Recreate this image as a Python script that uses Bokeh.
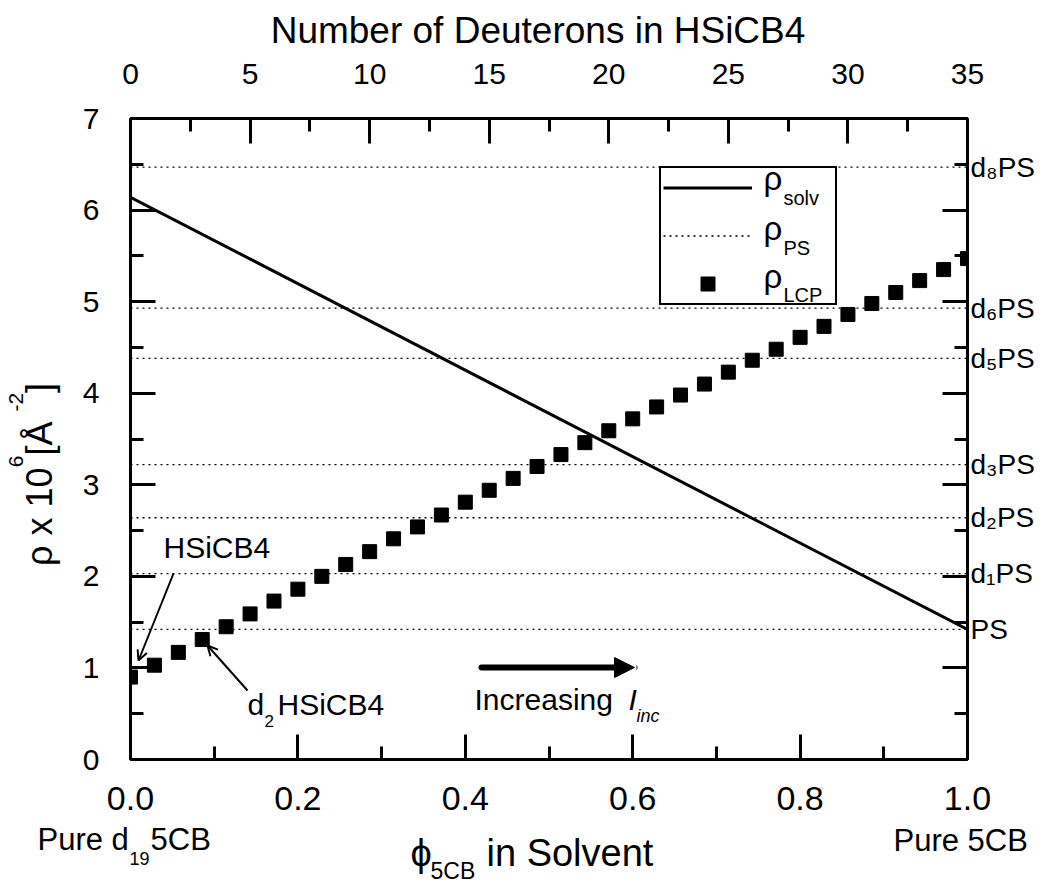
import math
from bokeh.plotting import figure
from bokeh.layouts import column, row
from bokeh.models import (Range1d, LinearAxis, SingleIntervalTicker, FixedTicker,
                          PrintfTickFormatter, CustomJSTickFormatter, Label, Arrow,
                          NormalHead, OpenHead, Legend, LegendItem)
from bokeh.embed import file_html
from bokeh.resources import INLINE

# ---------------- data ----------------
deuterons = [0, 1, 2, 3, 4, 5, 6, 7, 8, 9, 10, 11, 12, 13, 14, 15, 16, 17,
             18, 19, 20, 21, 22, 23, 24, 25, 26, 27, 28, 29, 30, 31, 32, 33, 34, 35]
rho_lcp = [0.90, 1.03, 1.17, 1.31, 1.45, 1.59, 1.73, 1.86, 2.00, 2.13, 2.27, 2.41,
           2.54, 2.67, 2.81, 2.94, 3.07, 3.20, 3.33, 3.46, 3.59, 3.72, 3.85, 3.98,
           4.10, 4.23, 4.36, 4.48, 4.61, 4.73, 4.86, 4.98, 5.10, 5.23, 5.35, 5.47]
phi_solv = [0.0, 1.0]
rho_solv = [6.14, 1.42]
ps_sub = ["", "1", "2", "3", "5", "6", "8"]
rho_ps = [1.42, 2.03, 2.64, 3.22, 4.38, 4.93, 6.47]

SUBS = {"1": "\u2081", "2": "\u2082", "3": "\u2083", "5": "\u2085", "6": "\u2086", "8": "\u2088"}
ps_labels = [("d" + SUBS[s] + "PS") if s else "PS" for s in ps_sub]

FONT = "Liberation Sans"
K = 0.36   # empirical shift of Label text below its anchor, in em

# ---------------- page geometry (px) ----------------
PAGE_W, PAGE_H = 1042, 885
MID_TOP, MID_BOT = 51, 822
TOP_H = MID_TOP
L_W = 66
FL, FT, FW, FH = 130, 118, 837, 641
BOT_H = PAGE_H - MID_BOT


def text_fig(w, h):
    f = figure(width=w, height=h, x_range=Range1d(0, w), y_range=Range1d(h, 0),
               output_backend="svg", toolbar_location=None, title=None,
               x_axis_location=None, y_axis_location=None, min_border=0,
               frame_align=False)
    f.xgrid.visible = False
    f.ygrid.visible = False
    f.outline_line_color = None
    f.background_fill_color = "white"
    f.border_fill_color = "white"
    return f


def put(f, ox, oy, text, px, py, size, align="left", italic=False, rotated=False):
    if rotated:
        x, y, ang = px - ox - K * size, py - oy, math.pi / 2
    else:
        x, y, ang = px - ox, py - oy - K * size, 0.0
    f.add_layout(Label(x=x, y=y, text=text, text_font=FONT,
                       text_font_size=f"{size}px", text_color="black",
                       text_align=align, text_baseline="alphabetic",
                       text_font_style="italic" if italic else "normal",
                       angle=ang, angle_units="rad"))


# ---------------- main figure ----------------
MW = PAGE_W - L_W
MH = MID_BOT - MID_TOP
p = figure(width=MW, height=MH, x_range=Range1d(0, 1), y_range=Range1d(0, 7),
           output_backend="svg", toolbar_location=None, title=None,
           x_axis_location=None, y_axis_location=None, frame_align=False,
           min_border_left=FL - L_W, min_border_right=MW - (FL - L_W) - FW,
           min_border_top=FT - MID_TOP, min_border_bottom=MID_BOT - FT - FH)
p.extra_x_ranges = {"top": Range1d(0, 35)}
p.xgrid.visible = False
p.ygrid.visible = False
p.outline_line_color = None
p.background_fill_color = "white"
p.border_fill_color = "white"


def style(ax, size, standoff):
    ax.axis_line_width = 3
    ax.axis_line_color = "black"
    ax.major_tick_line_width = 3
    ax.minor_tick_line_width = 3
    ax.major_tick_line_color = "black"
    ax.minor_tick_line_color = "black"
    ax.major_tick_in = 25
    ax.major_tick_out = 0
    ax.minor_tick_in = 13
    ax.minor_tick_out = 0
    ax.major_label_text_font = FONT
    ax.major_label_text_font_size = f"{size}px"
    ax.major_label_text_color = "black"
    ax.major_label_standoff = standoff


bottom = LinearAxis(ticker=SingleIntervalTicker(interval=0.2, num_minor_ticks=2),
                    formatter=PrintfTickFormatter(format="%.1f"))
style(bottom, 34, 27)
p.add_layout(bottom, "below")

left = LinearAxis(ticker=SingleIntervalTicker(interval=1, num_minor_ticks=2))
style(left, 30, 31)
p.add_layout(left, "left")

top = LinearAxis(x_range_name="top", ticker=SingleIntervalTicker(interval=5, num_minor_ticks=2))
style(top, 30, 35)
p.add_layout(top, "above")

right = LinearAxis(ticker=SingleIntervalTicker(interval=1, num_minor_ticks=2),
                   formatter=CustomJSTickFormatter(code="return ''"))
style(right, 10, 0)
p.add_layout(right, "right")

right_ps = LinearAxis(ticker=FixedTicker(ticks=rho_ps, minor_ticks=[]),
                      formatter=CustomJSTickFormatter(
                          args=dict(vals=rho_ps, labels=ps_labels),
                          code="for (let i = 0; i < vals.length; i++) {"
                               " if (Math.abs(vals[i] - tick) < 1e-6) return labels[i] }"
                               " return ''"))
style(right_ps, 28, 3)
right_ps.axis_line_color = None
right_ps.major_tick_in = 0
right_ps.major_tick_out = 0
right_ps.minor_tick_in = 0
right_ps.minor_tick_out = 0
p.add_layout(right_ps, "right")

ps_r = p.segment(x0=[0.0] * len(rho_ps), x1=[1.0] * len(rho_ps), y0=rho_ps, y1=rho_ps,
                 line_color="black", line_width=1.3, line_dash="2 4")
solv_r = p.line(phi_solv, rho_solv, line_color="black", line_width=3)
lcp_r = p.scatter(deuterons, rho_lcp, x_range_name="top", marker="square", size=14,
                  fill_color="black", line_color="black")

legend = Legend(items=[LegendItem(label=" ", renderers=[solv_r]),
                       LegendItem(label=" ", renderers=[ps_r]),
                       LegendItem(label=" ", renderers=[lcp_r])],
                location=(529, 454), margin=0, padding=2, spacing=13,
                glyph_width=89, glyph_height=35, label_width=73, label_height=35,
                label_standoff=8, label_text_font_size="1px",
                border_line_color="black", border_line_width=2, border_line_alpha=1,
                background_fill_alpha=0)
p.add_layout(legend)


def X(px):
    return (px - FL) / FW


def Y(py):
    return (FT + FH - py) / FH * 7


def plab(text, px, py, size, italic=False):
    p.add_layout(Label(x=X(px), y=Y(py - K * size), text=text, text_font=FONT,
                       text_font_size=f"{size}px", text_color="black",
                       text_align="left", text_baseline="alphabetic",
                       text_font_style="italic" if italic else "normal"))


# legend texts
for main_y, sub_y, sub_t in [(190, 205, "solv"), (240, 255, "PS"), (288, 302, "LCP")]:
    plab("\u03c1", 763, main_y, 33)
    plab(sub_t, 783, sub_y, 20)

# annotations inside the frame
plab("HSiCB4", 163, 558, 30)
plab("d", 247, 715, 30)
plab("2", 264, 727, 17)
plab("HSiCB4", 277, 715, 30)
plab("Increasing", 474, 710, 30)
plab("I", 628, 710, 30, italic=True)
plab("inc", 636, 722, 18, italic=True)

p.add_layout(Arrow(x_start=X(173), y_start=Y(573), x_end=X(138), y_end=Y(660),
                   line_width=2, line_color="black",
                   end=OpenHead(size=10, line_width=2, line_color="black")))
p.add_layout(Arrow(x_start=X(247), y_start=Y(690), x_end=X(207), y_end=Y(645),
                   line_width=2, line_color="black",
                   end=OpenHead(size=10, line_width=2, line_color="black")))
p.add_layout(Arrow(x_start=X(481), y_start=Y(667), x_end=X(634), y_end=Y(667),
                   line_width=6, line_color="black", line_cap="round",
                   end=NormalHead(size=20, fill_color="black", line_color="black", line_width=1)))

# ---------------- top strip ----------------
t_fig = text_fig(PAGE_W, TOP_H)
put(t_fig, 0, 0, "Number of Deuterons in HSiCB4", 537.5, 43, 37, align="center")

# ---------------- left strip (rotated y title) ----------------
l_fig = text_fig(L_W, MH)
M, S = 36, 21
adv = [("\u03c1 x 10", M, 2.745), ("6", S, 0.556), (" [\u00c5", M, 1.223), ("-2", S, 0.889), ("]", M, 0.278)]
total = sum(s * a for _, s, a in adv)
ypos = 474 + total / 2
for t, s, a in adv:
    bx = 52 if s == M else 23
    put(l_fig, 0, MID_TOP, t, bx, ypos, s, rotated=True)
    ypos -= s * a

# ---------------- bottom strip ----------------
b_fig = text_fig(PAGE_W, BOT_H)
put(b_fig, 0, MID_BOT, "Pure d", 37, 850, 31)
put(b_fig, 0, MID_BOT, "19", 129, 864, 18)
put(b_fig, 0, MID_BOT, "5CB", 150, 850, 31)
put(b_fig, 0, MID_BOT, "Pure 5CB", 893, 851, 31)
put(b_fig, 0, MID_BOT, "\u03d5", 410, 866, 38)
put(b_fig, 0, MID_BOT, "5CB", 430, 879, 23)
put(b_fig, 0, MID_BOT, "in Solvent", 486, 866, 38)

layout = column(t_fig, row(l_fig, p), b_fig)
open("out.html", "w").write(file_html(layout, INLINE))
